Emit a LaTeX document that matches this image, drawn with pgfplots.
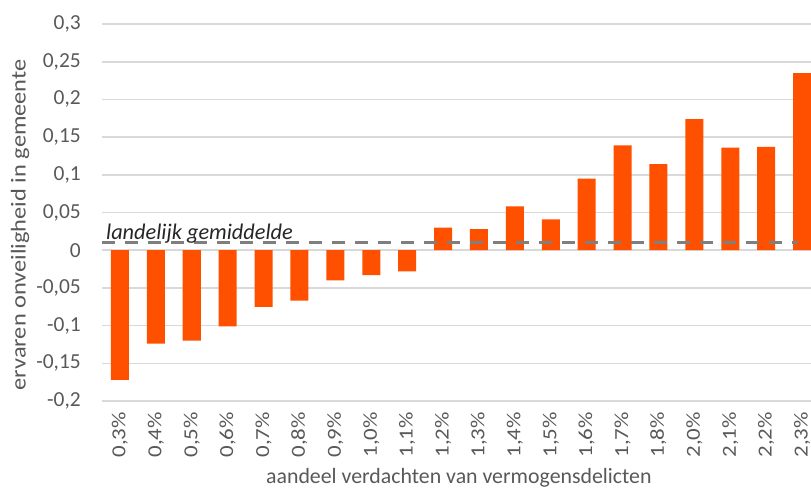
\documentclass[border=0pt]{standalone}
\usepackage{fontspec}
\setmainfont{Carlito}
\newfontfamily\rotfont{Carlito}[FakeStretch=1.15]
\usepackage{pgfplots}
\pgfplotsset{compat=1.18}
\definecolor{barorange}{RGB}{255,80,0}
\definecolor{gridgray}{RGB}{217,217,217}
\definecolor{labgray}{RGB}{89,89,89}
\definecolor{dashgray}{RGB}{127,127,127}
\definecolor{txtdark}{RGB}{38,38,38}
\begin{document}
\begin{tikzpicture}
\clip (-102bp,-88bp) rectangle (709bp,401bp);
\begin{axis}[
  scale only axis,
  width=718bp, height=377bp,
  xmin=-0.5, xmax=19.5,
  ymin=-0.2, ymax=0.3,
  axis line style={draw=none},
  tick style={draw=none},
  ymajorgrids,
  major grid style={color=gridgray, line width=1.6bp},
  ytick={-0.2,-0.15,-0.1,-0.05,0,0.05,0.1,0.15,0.2,0.25,0.3},
  yticklabels={{-0,2},{-0,15},{-0,1},{-0,05},{0},{0,05},{0,1},{0,15},{0,2},{0,25},{0,3}},
  xtick={0,...,19},
  xticklabels={{0,3\%},{0,4\%},{0,5\%},{0,6\%},{0,7\%},{0,8\%},{0,9\%},{1,0\%},{1,1\%},{1,2\%},{1,3\%},{1,4\%},{1,5\%},{1,6\%},{1,7\%},{1,8\%},{2,0\%},{2,1\%},{2,2\%},{2,3\%}},
  /pgf/number format/assume math mode=true,
  yticklabel style={font=\fontsize{21.5}{24}\selectfont, color=labgray, inner sep=0pt, xshift=-21bp},
  xticklabel style={font=\fontsize{20}{24}\rotfont, color=labgray, rotate=90, anchor=east, inner sep=0pt, xshift=-11bp},
  xlabel={aandeel verdachten van vermogensdelicten},
  ylabel={ervaren onveiligheid in gemeente},
  xlabel style={font=\fontsize{21.9}{24}\selectfont, color=labgray, at={(axis description cs:0.497,-0.204)}, anchor=center},
  ylabel style={font=\fontsize{21.3}{24}\rotfont, color=labgray, at={(axis description cs:-0.114,0.467)}, anchor=center},
]
\addplot[ybar, bar width=18bp, bar shift=0pt, fill=barorange, draw=none] coordinates {
(0,-0.172) (1,-0.124) (2,-0.120) (3,-0.101) (4,-0.075) (5,-0.067) (6,-0.040) (7,-0.033) (8,-0.028) (9,0.030)
(10,0.028) (11,0.058) (12,0.041) (13,0.095) (14,0.139) (15,0.114) (16,0.174) (17,0.136) (18,0.137) (19,0.235)
};
\addplot[dashgray, line width=2.5bp, dash pattern=on 13bp off 10bp, no marks] coordinates {(-0.5,0.01) (18.9,0.01)};
\node[anchor=base west, inner sep=0pt, font=\fontsize{22.4}{24}\selectfont\itshape, color=txtdark] at (axis cs:-0.39,0.0139) {landelijk gemiddelde};
\end{axis}
\end{tikzpicture}
\end{document}
